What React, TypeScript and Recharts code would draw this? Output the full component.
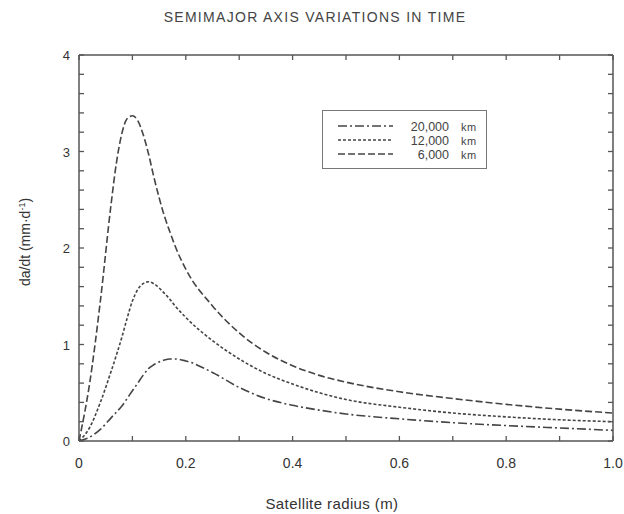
import { LineChart, Line, XAxis, YAxis } from "recharts";

const radius = [
  0, 0.02, 0.04, 0.06, 0.07, 0.08, 0.09, 0.1, 0.11, 0.12, 0.13, 0.14, 0.16,
  0.17, 0.18, 0.2, 0.25, 0.3, 0.35, 0.4, 0.45, 0.5, 0.6, 0.7, 0.8, 0.9, 1.0,
];
// 6,000 km orbit
const rate6000 = [
  0, 0.6, 1.45, 2.45, 2.88, 3.18, 3.34, 3.37, 3.32, 3.18, 2.98, 2.74, 2.33,
  2.17, 2.02, 1.78, 1.4, 1.12, 0.92, 0.78, 0.68, 0.61, 0.51, 0.44, 0.38, 0.33,
  0.29,
];
// 12,000 km orbit
const rate12000 = [
  0, 0.14, 0.4, 0.72, 0.89, 1.07, 1.27, 1.45, 1.57, 1.63, 1.65, 1.63, 1.53,
  1.47, 1.4, 1.28, 1.04, 0.85, 0.7, 0.59, 0.5, 0.43, 0.35, 0.29, 0.25, 0.22,
  0.2,
];
// 20,000 km orbit
const rate20000 = [
  0, 0.04, 0.12, 0.24, 0.3, 0.36, 0.44, 0.52, 0.6, 0.68, 0.75, 0.79, 0.84,
  0.85, 0.85, 0.83, 0.71, 0.555, 0.44, 0.37, 0.32, 0.28, 0.23, 0.19, 0.16,
  0.135, 0.11,
];

const xTicks = [0, 0.1, 0.2, 0.3, 0.4, 0.5, 0.6, 0.7, 0.8, 0.9, 1.0];
const xLabelValues = [0, 0.2, 0.4, 0.6, 0.8, 1.0];
const xLabelText = ["0", "0.2", "0.4", "0.6", "0.8", "1.0"];
const yTicks = [
  0, 0.2, 0.4, 0.6, 0.8, 1, 1.2, 1.4, 1.6, 1.8, 2, 2.2, 2.4, 2.6, 2.8, 3, 3.2,
  3.4, 3.6, 3.8, 4,
];
const yLabelValues = [0, 1, 2, 3, 4];

const series = [
  { key: "r20000", label: "20,000", unit: "km", dash: "9 3 2 3" },
  { key: "r12000", label: "12,000", unit: "km", dash: "3 2" },
  { key: "r6000", label: "6,000", unit: "km", dash: "7 3" },
];

const data = radius.map((r, i) => ({
  r,
  r6000: rate6000[i],
  r12000: rate12000[i],
  r20000: rate20000[i],
}));

const INK = "#444";
const AXIS = "#555";
const FONT = "'Liberation Sans', Arial, sans-serif";

const near = (a: number, b: number) => Math.abs(a - b) < 1e-6;

function LeftTick(props: any) {
  const { x, y, payload } = props;
  const show = yLabelValues.some((v) => near(v, payload.value));
  return (
    <g>
      <line x1={x} x2={x + 5} y1={y} y2={y} stroke={AXIS} strokeWidth={1.3} />
      {show && (
        <text x={x - 9} y={y + 5} textAnchor="end" fontSize={13} fill="#333" fontFamily={FONT}>
          {payload.value}
        </text>
      )}
    </g>
  );
}

function RightTick(props: any) {
  const { x, y } = props;
  return <line x1={x} x2={x - 5} y1={y} y2={y} stroke={AXIS} strokeWidth={1.3} />;
}

function BottomTick(props: any) {
  const { x, y, payload } = props;
  const idx = xLabelValues.findIndex((v) => near(v, payload.value));
  return (
    <g>
      <line x1={x} x2={x} y1={y} y2={y - 5} stroke={AXIS} strokeWidth={1.3} />
      {idx >= 0 && (
        <text x={x} y={y + 27} textAnchor="middle" fontSize={14} fill="#333" fontFamily={FONT}>
          {xLabelText[idx]}
        </text>
      )}
    </g>
  );
}

function TopTick(props: any) {
  const { x, y } = props;
  return <line x1={x} x2={x} y1={y} y2={y + 5} stroke={AXIS} strokeWidth={1.3} />;
}

function Legend() {
  return (
    <div
      style={{
        position: "absolute",
        left: 322,
        top: 110,
        width: 165,
        height: 59,
        border: "1.5px solid #777",
        boxSizing: "border-box",
        background: "#fff",
      }}
    >
      <svg width={165} height={59} style={{ position: "absolute", left: 0, top: 0 }}>
        {series.map((s, i) => (
          <g key={s.key}>
            <line
              x1={15}
              x2={70}
              y1={15 + i * 14}
              y2={15 + i * 14}
              stroke={INK}
              strokeWidth={1.4}
              strokeDasharray={s.dash}
            />
            <text x={126} y={19.5 + i * 14} textAnchor="end" fontSize={12.5} fill="#444" fontFamily={FONT}>
              {s.label}
            </text>
            <text x={138} y={19.5 + i * 14} fontSize={11} fill="#444" fontFamily={FONT} letterSpacing={0.5}>
              {s.unit}
            </text>
          </g>
        ))}
      </svg>
    </div>
  );
}

export default function App() {
  return (
    <div
      style={{
        position: "absolute",
        left: 0,
        top: 0,
        width: 624,
        height: 514,
        background: "#fff",
      }}
    >
      <div
        style={{
          position: "absolute",
          top: 9,
          left: 0,
          width: 630,
          textAlign: "center",
          fontFamily: FONT,
          fontSize: 14,
          letterSpacing: 1.3,
          color: "#444",
        }}
      >
        SEMIMAJOR AXIS VARIATIONS IN TIME
      </div>
      <LineChart
        width={624}
        height={514}
        data={data}
        margin={{ top: 54, right: 10, left: 39, bottom: 43 }}
      >
        <XAxis
          dataKey="r"
          type="number"
          domain={[0, 1]}
          ticks={xTicks}
          interval={0}
          tickSize={0}
          tickMargin={0}
          height={30}
          axisLine={{ stroke: AXIS, strokeWidth: 1.5 }}
          tick={<BottomTick />}
          label={{
            content: () => (
              <text
                x={332}
                y={509}
                textAnchor="middle"
                fontSize={15}
                fill="#333"
                fontFamily={FONT}
                letterSpacing={0.4}
              >
                Satellite radius  (m)
              </text>
            ),
          }}
        />
        <XAxis
          xAxisId="top"
          orientation="top"
          dataKey="r"
          type="number"
          domain={[0, 1]}
          ticks={xTicks}
          interval={0}
          tickSize={0}
          tickMargin={0}
          height={1}
          axisLine={{ stroke: AXIS, strokeWidth: 1.5 }}
          tick={<TopTick />}
        />
        <YAxis
          type="number"
          domain={[0, 4]}
          ticks={yTicks}
          interval={0}
          tickSize={0}
          tickMargin={0}
          width={40}
          axisLine={{ stroke: AXIS, strokeWidth: 1.5 }}
          tick={<LeftTick />}
          label={{
            content: () => (
              <text
                x={30}
                y={242}
                textAnchor="middle"
                fontSize={14}
                fill="#333"
                fontFamily={FONT}
                transform="rotate(-90 30 242)"
              >
                da/dt  (mm·d
                <tspan dy={-5} fontSize={9}>-1</tspan>
                <tspan dy={5}>)</tspan>
              </text>
            ),
          }}
        />
        <YAxis
          yAxisId="right"
          orientation="right"
          type="number"
          domain={[0, 4]}
          ticks={yTicks}
          interval={0}
          tickSize={0}
          tickMargin={0}
          width={1}
          axisLine={{ stroke: AXIS, strokeWidth: 1.5 }}
          tick={<RightTick />}
        />
        {series.map((s) => (
          <Line
            key={s.key}
            dataKey={s.key}
            type="monotone"
            stroke={INK}
            strokeWidth={1.6}
            strokeDasharray={s.dash}
            dot={false}
            activeDot={false}
            isAnimationActive={false}
          />
        ))}
        {/* invisible copy so the top/right frame axes are bound to a series */}
        <Line
          xAxisId="top"
          yAxisId="right"
          dataKey="r6000"
          stroke="none"
          dot={false}
          activeDot={false}
          legendType="none"
          isAnimationActive={false}
        />
      </LineChart>
      <Legend />
    </div>
  );
}
